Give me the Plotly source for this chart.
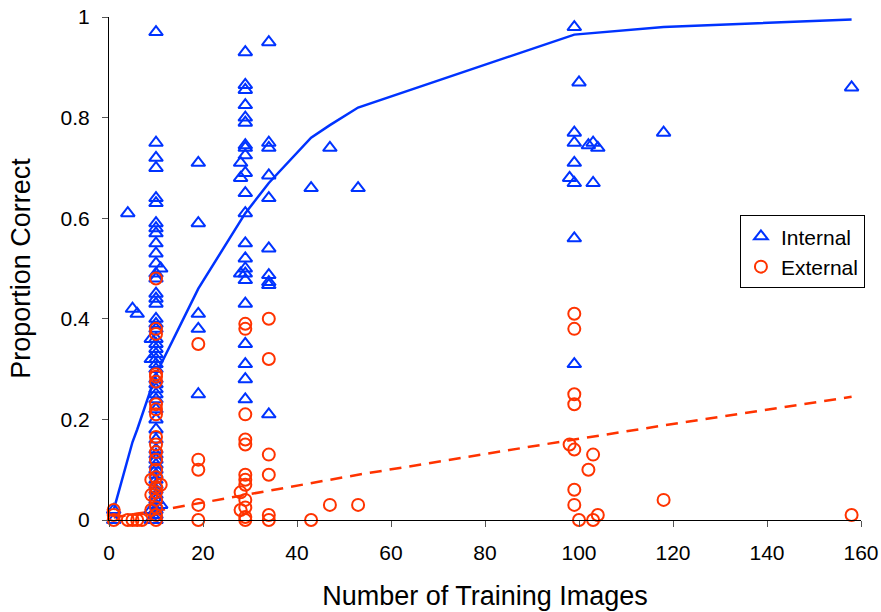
import plotly.graph_objects as go

# ---------------- data ----------------
internal_x = ([1, 1, 4, 5, 6]
              + [10] * 51 + [9, 9, 9, 9, 11, 11]
              + [19] * 5
              + [29] * 22 + [28, 28, 28]
              + [34] * 10
              + [43, 47, 53]
              + [99, 100, 99, 99, 103, 102, 104, 99, 98, 99, 103, 99, 99, 118, 158])
internal_y = ([0.02, 0.0, 0.61, 0.42, 0.41]
              + [0.97, 0.75, 0.72, 0.70, 0.64, 0.63, 0.59, 0.58, 0.57, 0.55, 0.53, 0.51,
                 0.49, 0.48, 0.45, 0.44, 0.43, 0.40, 0.39, 0.38, 0.36, 0.35, 0.34, 0.33,
                 0.32, 0.31, 0.30, 0.28, 0.27, 0.26, 0.25, 0.24, 0.22, 0.20, 0.18, 0.16,
                 0.14, 0.13, 0.12, 0.11, 0.10, 0.09, 0.08, 0.07, 0.06, 0.05, 0.04, 0.03,
                 0.02, 0.01, 0.0]
              + [0.36, 0.32, 0.02, 0.0, 0.50, 0.03]
              + [0.71, 0.59, 0.41, 0.38, 0.25]
              + [0.93, 0.865, 0.855, 0.825, 0.80, 0.79, 0.745, 0.74, 0.725, 0.69, 0.65,
                 0.61, 0.55, 0.52, 0.50, 0.49, 0.477, 0.43, 0.35, 0.31, 0.28, 0.24]
              + [0.71, 0.68, 0.49]
              + [0.95, 0.75, 0.74, 0.685, 0.64, 0.54, 0.487, 0.473, 0.467, 0.21]
              + [0.66, 0.74, 0.66]
              + [0.98, 0.87, 0.77, 0.75, 0.75, 0.745, 0.74, 0.71, 0.68, 0.67, 0.67, 0.56, 0.31, 0.77, 0.86])

external_x = ([1, 1, 1, 4, 5, 6, 7]
              + [10] * 21 + [9, 9, 9, 11]
              + [19] * 5
              + [29] * 12 + [28, 28]
              + [34] * 6
              + [43, 47, 53]
              + [99, 99, 99, 99, 98, 99, 103, 102, 99, 99, 100, 103, 104, 118, 158])
external_y = ([0.0, 0.01, 0.02, 0.0, 0.0, 0.0, 0.0]
              + [0.48, 0.38, 0.37, 0.29, 0.285, 0.275, 0.23, 0.22, 0.21, 0.165, 0.15,
                 0.135, 0.12, 0.10, 0.085, 0.065, 0.055, 0.04, 0.025, 0.01, 0.0]
              + [0.08, 0.05, 0.02, 0.07]
              + [0.35, 0.12, 0.10, 0.03, 0.0]
              + [0.39, 0.38, 0.21, 0.16, 0.15, 0.09, 0.08, 0.07, 0.04, 0.025, 0.006, 0.0]
              + [0.055, 0.02]
              + [0.40, 0.32, 0.13, 0.09, 0.01, 0.0]
              + [0.0, 0.03, 0.03]
              + [0.41, 0.38, 0.25, 0.23, 0.15, 0.14, 0.13, 0.10, 0.06, 0.03, 0.0, 0.0, 0.01, 0.04, 0.01])

fit_x = [1, 4, 5, 6, 10, 19, 29, 34, 43, 47, 53, 99, 118, 158]
internal_fit = [0.02, 0.12, 0.155, 0.18, 0.29, 0.46, 0.61, 0.67, 0.76, 0.785, 0.82, 0.965, 0.98, 0.995]
external_fit = [0.005, 0.01, 0.012, 0.013, 0.018, 0.033, 0.05, 0.058, 0.073, 0.079, 0.09, 0.16, 0.188, 0.245]

x_ticks = [0, 20, 40, 60, 80, 100, 120, 140, 160]
y_ticks = [0, 0.2, 0.4, 0.6, 0.8, 1]

BLUE = "#0033FF"
RED = "#FF3300"

fig = go.Figure()
fig.add_trace(go.Scatter(x=fit_x, y=internal_fit, mode="lines", showlegend=False,
                         line=dict(color=BLUE, width=2.5), hoverinfo="skip"))
fig.add_trace(go.Scatter(x=fit_x, y=external_fit, mode="lines", showlegend=False,
                         line=dict(color=RED, width=2.5, dash="12px,8px"), hoverinfo="skip"))
fig.add_trace(go.Scatter(x=internal_x, y=internal_y, mode="markers", name="Internal",
                         cliponaxis=False,
                         marker=dict(symbol="triangle-up-open", size=12, color=BLUE,
                                     line=dict(width=2, color=BLUE))))
fig.add_trace(go.Scatter(x=external_x, y=external_y, mode="markers", name="External",
                         cliponaxis=False,
                         marker=dict(symbol="circle-open", size=12, color=RED,
                                     line=dict(width=2, color=RED))))

axis_common = dict(showgrid=False, zeroline=False, showline=True, linecolor="black",
                   linewidth=1, ticks="outside", ticklen=6, tickcolor="#555555",
                   tickfont=dict(size=21, color="black"), automargin=False,
                   ticklabelstandoff=8)

fig.update_layout(
    width=881, height=612,
    margin=dict(l=109, r=20, t=17, b=92, autoexpand=False),
    paper_bgcolor="white", plot_bgcolor="white",
    font=dict(family="Liberation Sans, Arial, sans-serif", color="black"),
    xaxis=dict(range=[0, 160], tickvals=x_ticks,
               title=dict(text="Number of Training Images", font=dict(size=27), standoff=22),
               **axis_common),
    yaxis=dict(range=[0, 1], tickvals=y_ticks, ticktext=[str(v) for v in y_ticks],
               title=dict(text="Proportion Correct", font=dict(size=27), standoff=22),
               **axis_common),
    legend=dict(x=0.839, y=0.606, xanchor="left", yanchor="top",
                bordercolor="black", borderwidth=1, bgcolor="white",
                font=dict(size=21), itemsizing="constant", itemwidth=30),
    showlegend=True,
)

fig.write_html("out.html",
               config={"displayModeBar": False},
               post_script="document.body.style.margin='0';document.body.style.overflow='hidden';")
